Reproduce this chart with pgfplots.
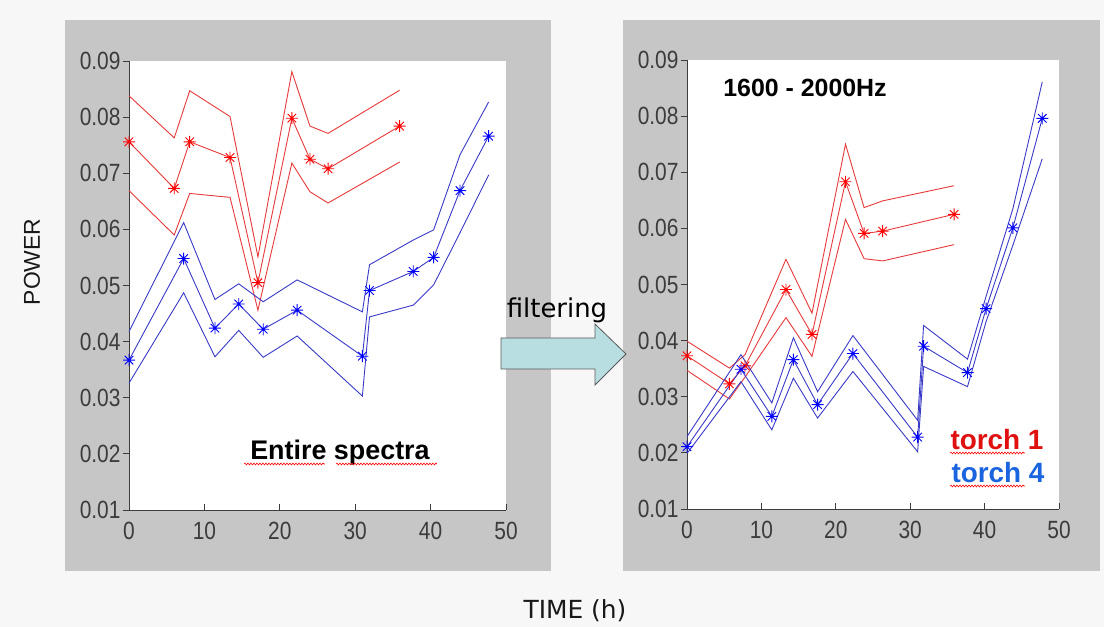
\documentclass[border=0pt]{standalone}
\usepackage{pgfplots}
\pgfplotsset{compat=1.18}
\usepackage{fontspec}
\setmainfont{Liberation Sans}
\newfontfamily\tickfont[FakeStretch=0.84]{Liberation Sans}
\newfontfamily\handfont{DejaVu Sans}
\usetikzlibrary{decorations.pathmorphing}

\definecolor{bg}{HTML}{F7F7F7}
\definecolor{panel}{HTML}{C6C6C6}
\definecolor{ticktxt}{HTML}{3C3C3C}
\definecolor{redline}{HTML}{E83A3A}
\definecolor{redmark}{HTML}{FF0000}
\definecolor{blueline}{HTML}{3A3AC8}
\definecolor{bluemark}{HTML}{0000FF}
\definecolor{torchblue}{HTML}{1A64E0}
\definecolor{torchred}{HTML}{E01010}
\definecolor{arrowfill}{HTML}{B8DEE2}

% matlab style '*' marker, 8 arms
\pgfdeclareplotmark{mstar}{%
  \pgfpathmoveto{\pgfqpoint{-\pgfplotmarksize}{0pt}}\pgfpathlineto{\pgfqpoint{\pgfplotmarksize}{0pt}}%
  \pgfpathmoveto{\pgfqpoint{0pt}{-\pgfplotmarksize}}\pgfpathlineto{\pgfqpoint{0pt}{\pgfplotmarksize}}%
  \pgfpathmoveto{\pgfqpoint{-0.707\pgfplotmarksize}{-0.707\pgfplotmarksize}}\pgfpathlineto{\pgfqpoint{0.707\pgfplotmarksize}{0.707\pgfplotmarksize}}%
  \pgfpathmoveto{\pgfqpoint{-0.707\pgfplotmarksize}{0.707\pgfplotmarksize}}\pgfpathlineto{\pgfqpoint{0.707\pgfplotmarksize}{-0.707\pgfplotmarksize}}%
  \pgfusepathqstroke}

\pgfplotsset{
  panel/.style={
    scale only axis, height=449bp,
    xmin=0, xmax=50, ymin=0.01, ymax=0.09,
    xtick={0,10,20,30,40,50},
    ytick={0.01,0.02,0.03,0.04,0.05,0.06,0.07,0.08,0.09},
    scaled y ticks=false,
    axis x line*=bottom, axis y line*=left,
    axis line style={draw=ticktxt, line width=0.9bp},
    tick style={draw=ticktxt, line width=0.8bp},
    major tick length=6bp,
    xtick align=inside, ytick align=outside,
    axis background/.style={fill=white},
    tick label style={font=\fontsize{25}{25}\selectfont\tickfont, text=ticktxt},
    /pgf/number format/assume math mode=true,
    yticklabel style={/pgf/number format/fixed, /pgf/number format/precision=2,
      /pgf/number format/fixed zerofill, xshift=1bp},
    xticklabel style={yshift=-9bp},
    clip=false,
  },
  band/.style={line width=0.9bp, no marks},
  mid/.style={line width=0.9bp, mark=mstar, mark size=6bp,
    mark options={line width=1.1bp}},
}

\begin{document}
\begin{tikzpicture}[x=1bp, y=1bp]
\useasboundingbox (0,0) rectangle (1104,627);
\fill[bg] (0,0) rectangle (1104,627);
\fill[panel] (65,56) rectangle (551,607);
\fill[panel] (623,56) rectangle (1100,607);

%% entire spectra
\begin{axis}[panel, width=377bp, at={(129bp,117bp)}, anchor=south west]
  % torch 1
  \addplot[band, color=redline] coordinates {
    (0,0.0838) (6.0,0.0763) (8.05,0.0847) (13.4,0.0801) (17.1,0.0551)
    (21.6,0.0881) (24.0,0.0784) (26.4,0.0771) (35.9,0.0848)
  };
  \addplot[band, color=redline] coordinates {
    (0,0.0669) (6.0,0.0590) (8.05,0.0664) (13.4,0.0657) (17.1,0.0456)
    (21.6,0.0718) (24.0,0.0667) (26.4,0.0647) (35.9,0.0720)
  };
  \addplot[mid, color=redline, mark options={draw=redmark}] coordinates {
    (0,0.0756) (6.0,0.0673) (8.05,0.0756) (13.4,0.0728) (17.1,0.0505)
    (21.6,0.0798) (24.0,0.0725) (26.4,0.0708) (35.9,0.0784)
  };
  % torch 4
  \addplot[band, color=blueline] coordinates {
    (0,0.0418) (7.25,0.0612) (11.4,0.0475) (14.55,0.0503) (17.8,0.0471)
    (22.3,0.0510) (30.95,0.0453) (31.9,0.0537) (37.7,0.0581) (40.4,0.0599)
    (43.9,0.0733) (47.7,0.0827)
  };
  \addplot[band, color=blueline] coordinates {
    (0,0.0326) (7.25,0.0487) (11.4,0.0373) (14.55,0.0420) (17.8,0.0372)
    (22.3,0.0410) (30.95,0.0303) (31.9,0.0444) (37.7,0.0465) (40.4,0.0501)
    (43.9,0.0594) (47.7,0.0697)
  };
  \addplot[mid, color=blueline, mark options={draw=bluemark}] coordinates {
    (0,0.0367) (7.25,0.0548) (11.4,0.0424) (14.55,0.0467) (17.8,0.0422)
    (22.3,0.0456) (30.95,0.0374) (31.9,0.0491) (37.7,0.0525) (40.4,0.0550)
    (43.9,0.0669) (47.7,0.0766)
  };
\end{axis}

%% 1600 - 2000 Hz
\begin{axis}[panel, width=372bp, at={(687bp,118bp)}, anchor=south west]
  \addplot[band, color=redline] coordinates {
    (0,0.0399) (5.7,0.0351) (7.8,0.0375) (13.3,0.0545) (16.8,0.0449)
    (21.3,0.0750) (23.8,0.0637) (26.3,0.0649) (35.9,0.0676)
  };
  \addplot[band, color=redline] coordinates {
    (0,0.0347) (5.7,0.0296) (7.8,0.0335) (13.3,0.0441) (16.8,0.0372)
    (21.3,0.0616) (23.8,0.0546) (26.3,0.0542) (35.9,0.0571)
  };
  \addplot[mid, color=redline, mark options={draw=redmark}] coordinates {
    (0,0.0373) (5.7,0.0323) (7.8,0.0355) (13.3,0.0491) (16.8,0.0411)
    (21.3,0.0683) (23.8,0.0591) (26.3,0.0595) (35.9,0.0625)
  };
  \addplot[band, color=blueline] coordinates {
    (0,0.0229) (7.25,0.0375) (11.4,0.0289) (14.3,0.0405) (17.55,0.0309)
    (22.3,0.0409) (31.0,0.0258) (31.8,0.0427) (37.7,0.0367) (40.2,0.0479)
    (43.8,0.0635) (47.75,0.0861)
  };
  \addplot[band, color=blueline] coordinates {
    (0,0.0199) (7.25,0.0327) (11.4,0.0241) (14.3,0.0333) (17.55,0.0262)
    (22.3,0.0345) (31.0,0.0202) (31.8,0.0354) (37.7,0.0318) (40.2,0.0434)
    (43.8,0.0570) (47.75,0.0724)
  };
  \addplot[mid, color=blueline, mark options={draw=bluemark}] coordinates {
    (0,0.0211) (7.25,0.0349) (11.4,0.0265) (14.3,0.0366) (17.55,0.0286)
    (22.3,0.0377) (31.0,0.0228) (31.8,0.0390) (37.7,0.0343) (40.2,0.0457)
    (43.8,0.0601) (47.75,0.0796)
  };
\end{axis}

%% texts
\node[rotate=90, font=\fontsize{23}{23}\selectfont, text=black!90] at (32,365) {POWER};
\node[font=\fontsize{25}{25}\selectfont\handfont, text=black!90] at (575,16) {TIME (h)};
\node[anchor=base, font=\fontsize{27}{27}\selectfont\bfseries] at (340,167) {Entire spectra};
\node[anchor=base, font=\fontsize{25}{25}\selectfont\bfseries] at (805,530) {1600 - 2000Hz};
\node[anchor=base, font=\fontsize{28}{28}\selectfont\bfseries, text=torchred] at (997,177) {torch 1};
\node[anchor=base, font=\fontsize{28}{28}\selectfont\bfseries, text=torchblue] at (998,144) {torch 4};

% spell check squiggles
\begin{scope}[red, line width=0.6bp, decoration={snake, amplitude=0.9bp, segment length=3bp}]
  \draw[decorate] (244,163) -- (325,163);
  \draw[decorate] (336,163) -- (437,163);
  \draw[decorate] (950,174) -- (1025,174);
  \draw[decorate] (950,141) -- (1025,141);
\end{scope}

%% arrow
\node[anchor=base, font=\fontsize{26}{26}\selectfont\handfont] at (557,309) {filtering};
\filldraw[fill=arrowfill, draw=black!65, line width=0.8bp]
  (501,289) -- (595,289) -- (595,303) -- (626,273) -- (595,242) -- (595,258) -- (501,258) -- cycle;
\end{tikzpicture}
\end{document}
